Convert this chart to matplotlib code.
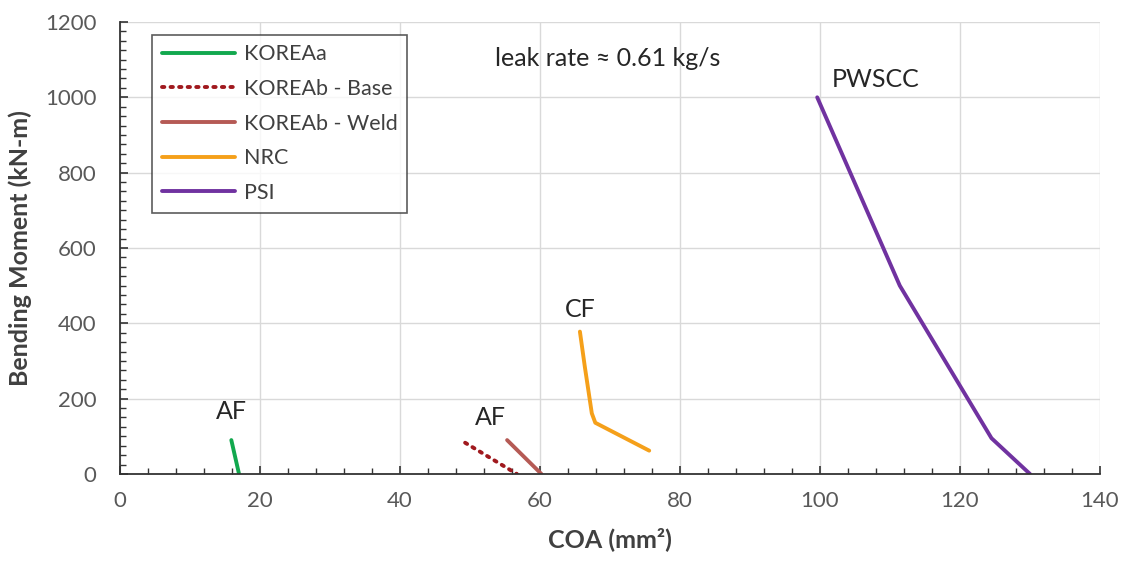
import matplotlib
matplotlib.use("Agg")
import matplotlib.pyplot as plt
from matplotlib.ticker import MultipleLocator

plt.rcParams['font.family'] = ['Lato', 'DejaVu Sans']

# COA (mm²) vs bending moment (kN-m) for each crack model
korea_a_x = [15.9, 17.0]
korea_a_y = [90, 0]

korea_b_base_x = [49.3, 56.7]
korea_b_base_y = [83, 0]

korea_b_weld_x = [55.3, 60.2]
korea_b_weld_y = [90, 0]

nrc_x = [65.7, 66.4, 67.4, 67.9, 75.6]
nrc_y = [378, 285, 161, 136, 62]

psi_x = [99.6, 111.4, 124.5, 130.0]
psi_y = [1000, 500, 95, 0]

series_labels = ["KOREAa", "KOREAb - Base", "KOREAb - Weld", "NRC", "PSI"]

fig = plt.figure(figsize=(11.26, 5.61), dpi=100)
ax = fig.add_axes([0.1066, 0.1551, 0.8703, 0.8057])

lw = 2.8
ax.plot(korea_a_x, korea_a_y, color="#12A84E", lw=lw, label=series_labels[0], solid_capstyle="round")
ax.plot(korea_b_base_x, korea_b_base_y, color="#A0191E", lw=lw, ls=(0, (0.6, 1.6)),
        dash_capstyle="round", label=series_labels[1])
ax.plot(korea_b_weld_x, korea_b_weld_y, color="#B55A55", lw=lw, label=series_labels[2], solid_capstyle="round")
ax.plot(nrc_x, nrc_y, color="#F5A01A", lw=lw, label=series_labels[3], solid_capstyle="round")
ax.plot(psi_x, psi_y, color="#7032A0", lw=lw, label=series_labels[4], solid_capstyle="round")

ax.set_xlim(0, 140)
ax.set_ylim(0, 1200)
ax.xaxis.set_major_locator(MultipleLocator(20))
ax.xaxis.set_minor_locator(MultipleLocator(4))
ax.yaxis.set_major_locator(MultipleLocator(200))
ax.yaxis.set_minor_locator(MultipleLocator(25))

ax.grid(True, which="major", color="#D9D9D9", lw=1.0)
ax.set_axisbelow(True)
for side in ("top", "right"):
    ax.spines[side].set_visible(False)
for side in ("left", "bottom"):
    ax.spines[side].set_color("#333333")
    ax.spines[side].set_linewidth(1.3)

ax.tick_params(which="major", direction="in", length=6, width=1.2, color="#333333",
               labelsize=16, labelcolor="#595959")
ax.tick_params(which="minor", direction="in", length=4.5, width=1.0, color="#333333")
ax.tick_params(axis="x", which="major", pad=12)
ax.tick_params(axis="y", which="major", pad=17)

ax.set_xlabel("COA (mm²)", fontsize=18, fontweight="bold", color="#404040", labelpad=12)
ax.set_ylabel("Bending Moment (kN-m)", fontsize=18, fontweight="bold", color="#404040", labelpad=9)

ann_kw = dict(fontsize=18, color="#262626", ha="center", va="center")
ax.text(69.6, 1104, "leak rate ≈ 0.61 kg/s", **ann_kw)
ax.text(107.9, 1046, "PWSCC", **ann_kw)
ax.text(65.7, 438, "CF", **ann_kw)
ax.text(15.9, 165, "AF", **ann_kw)
ax.text(52.9, 149, "AF", **ann_kw)

leg = ax.legend(loc="upper left", bbox_to_anchor=(0.033, 0.972), fontsize=15.5,
                frameon=True, fancybox=False, edgecolor="#333333", handlelength=3.4,
                handletextpad=0.4, labelspacing=0.68, borderpad=0.45, borderaxespad=0)
leg.get_frame().set_linewidth(1.2)
for t in leg.get_texts():
    t.set_color("#404040")

fig.savefig("out.png", dpi=100)
